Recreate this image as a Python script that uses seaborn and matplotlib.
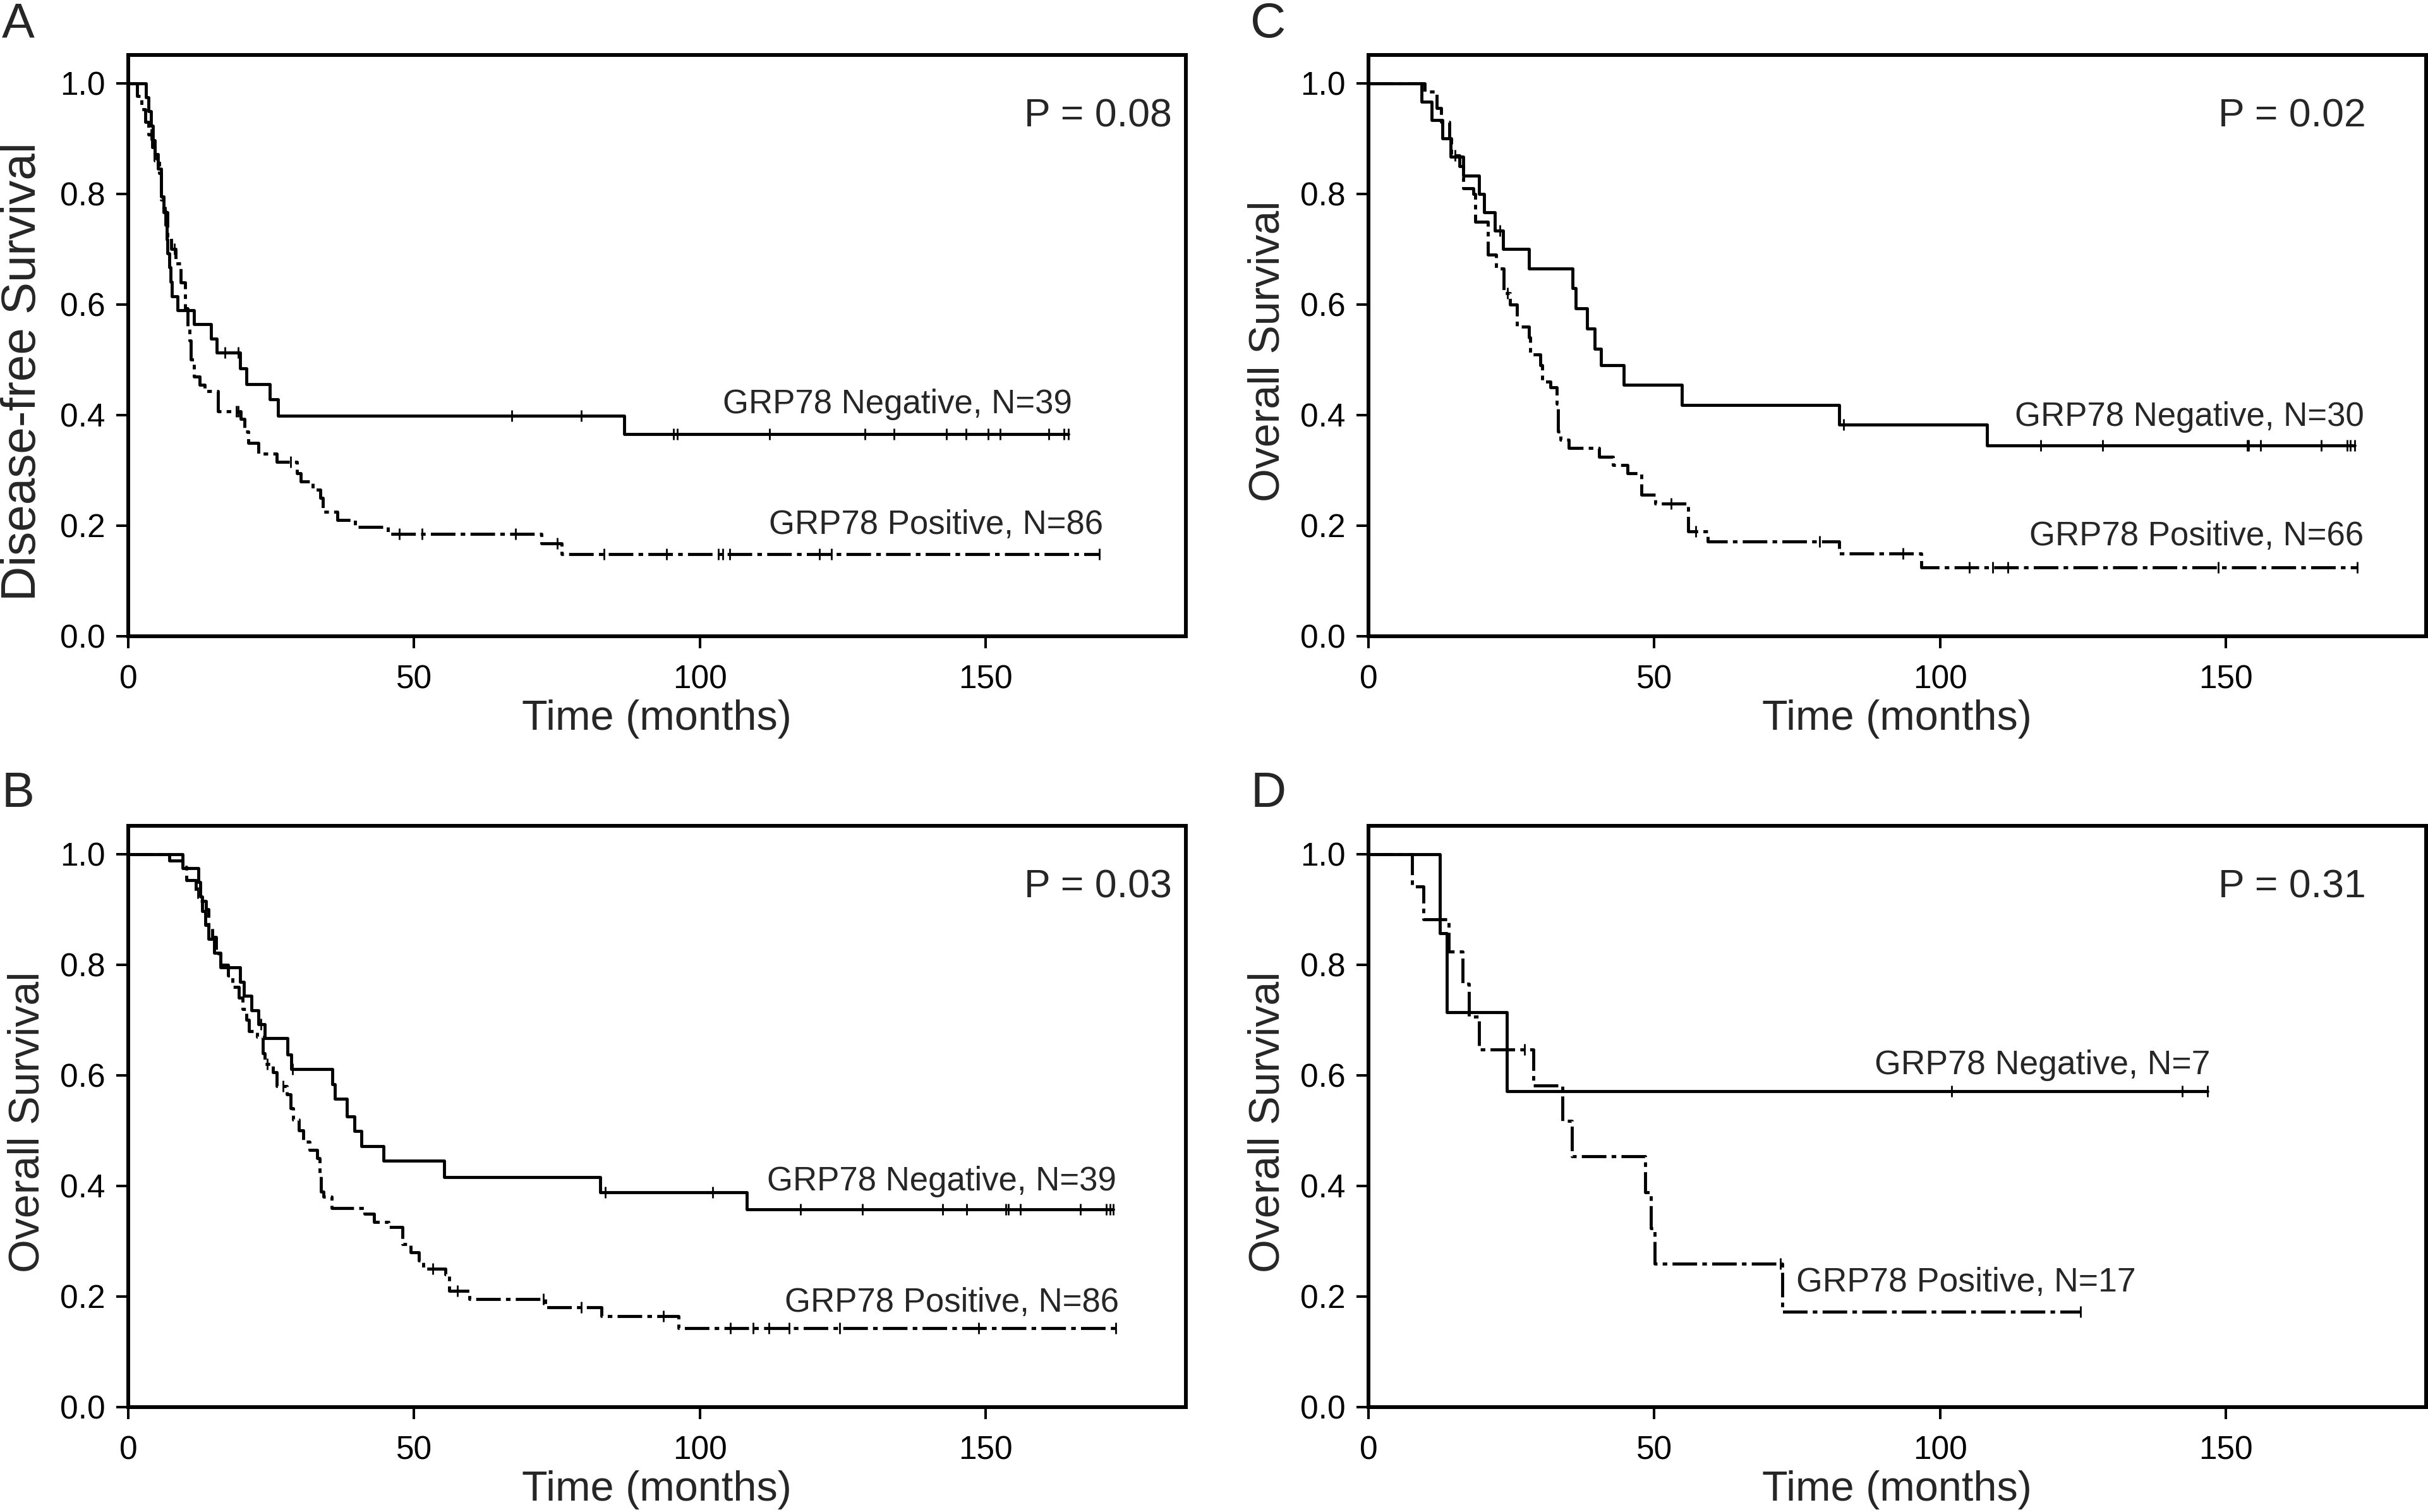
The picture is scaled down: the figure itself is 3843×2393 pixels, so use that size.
import numpy as np
import pandas as pd
import matplotlib
matplotlib.use("Agg")
import matplotlib.pyplot as plt
import seaborn as sns
from matplotlib import font_manager

# ===== DATA =====
# panel A - disease-free survival
a_neg_t = [0, 3.1, 3.5, 4.0, 4.3, 4.7, 5.2, 5.8, 6.2, 6.5, 6.7, 6.9, 7.2, 7.4, 7.6, 8.6, 11.5,
           14.5, 15.5, 19.6, 20.7, 24.8, 26.2, 86.8]
a_neg_s = [1.0, 0.974, 0.949, 0.923, 0.897, 0.872, 0.846, 0.795, 0.769, 0.744, 0.718, 0.692, 0.667,
           0.641, 0.615, 0.590, 0.564, 0.538, 0.513, 0.484, 0.456, 0.428, 0.399, 0.366]
a_neg_cens = [16.9, 19.2, 67.1, 79.2, 95.4, 96.1, 112.2, 128.9, 133.9, 143.1, 146.5, 150.4, 152.5,
              161.0, 163.7, 164.4]
a_pos_t = [0, 1.6, 2.3, 3.0, 3.5, 4.2, 4.7, 5.4, 5.8, 6.2, 6.9, 7.5, 8.3, 9.2, 10.0, 10.4, 10.7,
           11.0, 11.5, 12.5, 13.4, 15.7, 19.7, 20.3, 21.0, 22.8, 26.0, 29.5, 30.2, 32.3, 33.6, 34.1,
           36.6, 39.7, 45.4, 72.3, 75.8]
a_pos_s = [1.0, 0.977, 0.953, 0.930, 0.907, 0.884, 0.860, 0.837, 0.790, 0.767, 0.720, 0.700, 0.674,
           0.640, 0.593, 0.560, 0.535, 0.500, 0.470, 0.455, 0.443, 0.407, 0.393, 0.370, 0.350, 0.330,
           0.315, 0.295, 0.280, 0.265, 0.250, 0.225, 0.210, 0.198, 0.185, 0.168, 0.149]
a_pos_cens = [4.0, 5.1, 6.5, 8.1, 18.9, 19.2, 28.4, 47.4, 51.4, 67.7, 75.1, 83.2, 94.2, 103.2,
              104.0, 105.2, 120.9, 123.0, 169.9]

# panel B - overall survival
b_neg_t = [0, 9.5, 12.3, 12.6, 12.9, 13.5, 14.1, 15.0, 16.2, 19.6, 20.2, 21.6, 22.8, 23.9, 27.9,
           28.5, 35.7, 36.2, 38.2, 39.6, 40.8, 44.7, 55.3, 82.6, 108.2]
b_neg_s = [1.0, 0.974, 0.949, 0.923, 0.897, 0.872, 0.846, 0.821, 0.795, 0.769, 0.744, 0.718, 0.692,
           0.667, 0.637, 0.611, 0.584, 0.557, 0.526, 0.499, 0.472, 0.445, 0.416, 0.388, 0.357]
b_neg_cens = [23.2, 28.7, 83.4, 102.2, 117.6, 128.4, 142.5, 146.7, 153.5, 153.9, 156.1, 166.5,
              171.1, 171.8, 172.3]
b_pos_t = [0, 7.2, 9.5, 10.2, 11.8, 12.6, 13.6, 14.0, 14.7, 15.4, 16.1, 17.5, 18.2, 19.3, 20.0,
           20.7, 21.1, 22.5, 23.5, 23.9, 25.3, 26.0, 27.8, 28.4, 28.9, 29.9, 30.6, 31.7, 33.1, 33.5,
           33.7, 34.2, 35.6, 41.3, 43.0, 45.5, 48.0, 49.4, 50.9, 51.6, 55.5, 56.2, 59.7, 72.9, 82.8,
           96.3]
b_pos_s = [1.0, 0.988, 0.977, 0.953, 0.930, 0.915, 0.900, 0.870, 0.850, 0.820, 0.800, 0.780, 0.760,
           0.740, 0.720, 0.700, 0.680, 0.670, 0.640, 0.620, 0.605, 0.580, 0.565, 0.540, 0.520, 0.500,
           0.480, 0.465, 0.450, 0.420, 0.390, 0.380, 0.360, 0.350, 0.335, 0.325, 0.295, 0.280, 0.265,
           0.250, 0.240, 0.210, 0.195, 0.180, 0.165, 0.143]
b_pos_cens = [12.2, 24.3, 27.1, 53.3, 57.6, 72.6, 79.2, 93.6, 105.3, 109.3, 112.1, 115.6, 124.5,
              148.8, 172.7]

# panel C - overall survival (subgroup)
c_neg_t = [0, 9.3, 11.1, 12.9, 14.4, 16.6, 19.4, 20.2, 22.1, 23.5, 28.1, 35.7, 36.3, 38.2, 39.6,
           40.7, 44.7, 54.8, 82.3, 108.2]
c_neg_s = [1.0, 0.967, 0.933, 0.900, 0.867, 0.833, 0.800, 0.767, 0.733, 0.700, 0.665, 0.630, 0.593,
           0.556, 0.520, 0.490, 0.455, 0.418, 0.383, 0.345]
c_neg_cens = [23.0, 83.1, 117.6, 128.4, 153.7, 154.0, 156.0, 166.7, 171.2, 171.8, 172.5]
c_pos_t = [0, 9.9, 12.0, 12.7, 14.1, 14.5, 15.9, 16.6, 18.4, 18.7, 20.9, 22.3, 23.7, 24.8, 26.0,
           28.1, 28.3, 30.1, 30.4, 31.8, 32.9, 33.2, 33.6, 35.0, 40.3, 42.8, 45.3, 47.7, 50.2, 55.9,
           59.4, 82.3, 96.7]
c_pos_s = [1.0, 0.985, 0.955, 0.930, 0.900, 0.870, 0.850, 0.810, 0.800, 0.750, 0.690, 0.665, 0.620,
           0.600, 0.560, 0.540, 0.510, 0.490, 0.460, 0.450, 0.420, 0.370, 0.355, 0.340, 0.325, 0.310,
           0.295, 0.256, 0.240, 0.190, 0.171, 0.150, 0.125]
c_pos_cens = [15.2, 24.3, 53.0, 57.3, 78.9, 93.5, 105.1, 109.2, 111.8, 148.7, 173.0]

# panel D - overall survival (subgroup)
d_neg_t = [0, 12.5, 13.7, 24.2]
d_neg_s = [1.0, 0.857, 0.714, 0.571]
d_neg_cens = [102.0, 142.4, 146.8]
d_pos_t = [0, 7.6, 9.6, 14.0, 16.5, 17.6, 19.3, 28.9, 33.9, 35.6, 48.4, 49.4, 50.1, 72.4]
d_pos_s = [1.0, 0.941, 0.882, 0.824, 0.765, 0.706, 0.647, 0.582, 0.518, 0.453, 0.388, 0.323,
           0.259, 0.172]
d_pos_cens = [27.3, 72.1, 124.6]

panel_letters = ['A', 'B', 'C', 'D']
y_labels = ['Disease-free Survival', 'Overall Survival', 'Overall Survival', 'Overall Survival']
p_labels = ['P = 0.08', 'P = 0.03', 'P = 0.02', 'P = 0.31']
neg_labels = ['GRP78 Negative, N=39', 'GRP78 Negative, N=39', 'GRP78 Negative, N=30', 'GRP78 Negative, N=7']
pos_labels = ['GRP78 Positive, N=86', 'GRP78 Positive, N=86', 'GRP78 Positive, N=66', 'GRP78 Positive, N=17']

# ===== STYLE =====
sns.set_theme(style='ticks')
plt.rcParams['font.family'] = ['Liberation Sans', 'DejaVu Sans']
installed = {f.name for f in font_manager.fontManager.ttflist}
narrow = 'Liberation Sans Narrow' if 'Liberation Sans Narrow' in installed else None

DASHDOT = (0, (8.0, 1.7, 1.5, 1.7))
LW = 3.5


def km_frame(t, s, cens):
    end = max(max(cens), t[-1])
    return pd.DataFrame({'time': list(t) + [end], 'surv': list(s) + [s[-1]]})


def cens_y(t, s, cens):
    idx = np.searchsorted(np.asarray(t), np.asarray(cens), side='right') - 1
    return np.asarray(s)[idx]


def draw_panel(ax, neg, pos, ylab, ylab_size, ylab_pad, ylab_y, ptxt, p_x, lab_neg, lab_pos, narrow_text):
    for (t, s, c), ls in [(neg, '-'), (pos, DASHDOT)]:
        sns.lineplot(data=km_frame(t, s, c), x='time', y='surv', drawstyle='steps-post',
                     estimator=None, sort=False, color='black', lw=LW, linestyle=ls, ax=ax)
        ax.plot(c, cens_y(t, s, c), ls='none', marker='|', ms=13, mew=2.0, color='black')
    ax.set_xlim(0, 185)
    ax.set_ylim(0, 1.051)
    ax.set_xticks([0, 50, 100, 150])
    ax.set_yticks(np.arange(0, 1.01, 0.2))
    ax.set_yticklabels([f'{v:.1f}' for v in np.arange(0, 1.01, 0.2)])
    ax.tick_params(axis='both', direction='out', length=14, width=2.9, labelsize=37, colors='black')
    ax.tick_params(axis='x', pad=18)
    ax.tick_params(axis='y', pad=12)
    for sp in ax.spines.values():
        sp.set_visible(True)
        sp.set_linewidth(4.3)
        sp.set_color('black')
    ax.set_xlabel('Time (months)', fontsize=48, labelpad=5)
    ax.set_ylabel(ylab, fontsize=ylab_size, labelpad=ylab_pad, y=ylab_y)
    ax.text(p_x, 0.895, ptxt, transform=ax.transAxes, ha='right', va='center', fontsize=45)
    if narrow_text and narrow:
        kw = dict(fontsize=46, family=narrow)
    elif narrow_text:
        kw = dict(fontsize=38)
    else:
        kw = dict(fontsize=38.5)
    for (x, y, ha, txt) in [lab_neg, lab_pos]:
        ax.text(x, y, txt, ha=ha, va='center', **kw)


fig = plt.figure(figsize=(38.43, 23.93), dpi=100)
W, H = 0.4356, 0.3844
ax_a = fig.add_axes([0.0528, 0.5792, W, H])
ax_b = fig.add_axes([0.0528, 0.0694, W, H])
ax_c = fig.add_axes([0.5636, 0.5792, W, H])
ax_d = fig.add_axes([0.5636, 0.0694, W, H])

draw_panel(ax_a, (a_neg_t, a_neg_s, a_neg_cens), (a_pos_t, a_pos_s, a_pos_cens),
           y_labels[0], 55, 17, 0.455, p_labels[0], 0.987,
           (165.1, 0.419, 'right', neg_labels[0]), (170.5, 0.201, 'right', pos_labels[0]), True)
draw_panel(ax_b, (b_neg_t, b_neg_s, b_neg_cens), (b_pos_t, b_pos_s, b_pos_cens),
           y_labels[1], 49, 14, 0.49, p_labels[1], 0.987,
           (172.8, 0.408, 'right', neg_labels[1]), (173.3, 0.188, 'right', pos_labels[1]), True)
draw_panel(ax_c, (c_neg_t, c_neg_s, c_neg_cens), (c_pos_t, c_pos_s, c_pos_cens),
           y_labels[2], 49, 14, 0.49, p_labels[2], 0.943,
           (174.1, 0.397, 'right', neg_labels[2]), (174.1, 0.181, 'right', pos_labels[2]), True)
draw_panel(ax_d, (d_neg_t, d_neg_s, d_neg_cens), (d_pos_t, d_pos_s, d_pos_cens),
           y_labels[3], 49, 14, 0.49, p_labels[3], 0.943,
           (147.3, 0.618, 'right', neg_labels[3]), (74.8, 0.225, 'left', pos_labels[3]), False)

# panel letters
for letter, (x, y) in zip(panel_letters, [(0.0008, 0.9753), (0.0008, 0.4664), (0.515, 0.9753), (0.515, 0.4664)]):
    fig.text(x, y, letter, ha='left', va='baseline', fontsize=56)

fig.savefig('out.png', dpi=100)
